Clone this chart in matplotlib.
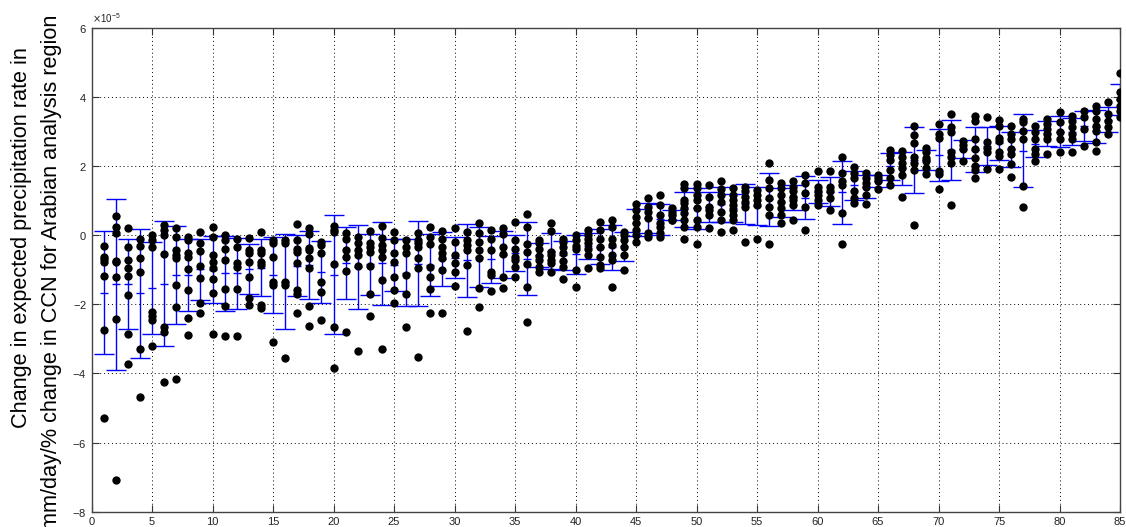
import numpy as np
import matplotlib.pyplot as plt
from matplotlib.ticker import ScalarFormatter, MultipleLocator

plt.rcParams['font.family'] = ['Liberation Sans', 'DejaVu Sans']

# Values per simulation (units of 1e-5 mm/day per % CCN)
runs = list(range(1, 86))
precip_change = [
    [-0.32, -0.63, -0.70, -0.79, -1.17, -2.73, -5.30],
    [0.54, 0.22, 0.07, -0.74, -0.79, -1.21, -2.43, -7.08],
    [0.19, -0.34, -0.72, -0.96, -1.18, -1.72, -2.85, -3.73],
    [-0.11, -0.32, -0.66, -1.07, -3.30, -4.67],
    [0.00, -0.14, -0.34, -2.22, -2.34, -2.46, -3.20],
    [0.29, 0.16, 0.00, -0.54, -2.67, -2.79, -4.26],
    [0.19, -0.05, -0.43, -0.58, -0.67, -1.45, -2.07, -4.16],
    [-0.05, -0.14, -0.53, -0.63, -0.99, -1.59, -2.41, -2.90],
    [0.09, -0.24, -0.46, -0.90, -1.23, -1.96, -2.25],
    [0.22, -0.07, -0.58, -0.77, -0.96, -1.28, -1.67, -2.86],
    [0.00, -0.14, -0.40, -0.72, -1.55, -2.05, -2.91],
    [-0.10, -0.34, -0.82, -0.92, -1.57, -2.91],
    [-0.08, -0.43, -0.53, -0.77, -1.22, -1.81, -2.01],
    [0.09, -0.43, -0.53, -0.77, -0.87, -2.02, -2.12],
    [-0.14, -0.24, -0.62, -1.35, -1.45, -3.10],
    [-0.14, -0.24, -1.35, -1.45, -3.54],
    [0.32, -0.14, -0.39, -0.48, -0.82, -1.59, -1.69, -2.26],
    [0.19, 0.02, -0.36, -0.43, -0.67, -0.96, -2.04, -2.62],
    [-0.19, -0.29, -0.51, -1.35, -1.64, -2.46],
    [0.26, 0.14, 0.08, -0.84, -2.65, -3.85],
    [0.07, -0.10, -0.43, -0.63, -1.04, -2.79],
    [-0.05, -0.24, -0.43, -0.58, -0.89, -3.34],
    [0.13, -0.24, -0.34, -0.48, -0.90, -1.71, -2.34],
    [0.26, -0.08, -0.29, -0.43, -0.63, -1.30, -3.28],
    [0.08, -0.14, -0.51, -0.77, -1.22, -1.59, -1.95],
    [-0.14, -0.34, -0.53, -1.14, -1.71, -2.67],
    [0.05, -0.14, -0.24, -0.34, -0.67, -0.96, -3.52],
    [0.24, -0.05, -0.26, -0.92, -1.20, -1.57, -2.26],
    [0.13, -0.10, -0.34, -0.53, -0.67, -1.01, -2.24],
    [0.19, -0.19, -0.58, -0.82, -1.06, -1.47],
    [0.10, -0.14, -0.29, -0.43, -0.87, -2.77],
    [0.36, 0.05, -0.19, -0.43, -0.67, -1.52, -2.07],
    [0.14, -0.10, -0.43, -1.06, -1.16, -1.62],
    [0.19, 0.02, -0.34, -0.56, -1.20, -1.54],
    [0.39, -0.14, -0.39, -0.63, -0.72, -0.92, -1.20],
    [0.60, 0.22, -0.26, -0.48, -0.84, -1.49, -2.52],
    [-0.14, -0.24, -0.39, -0.61, -0.72, -0.92, -1.06],
    [0.36, 0.12, -0.48, -0.58, -0.72, -0.82, -1.06],
    [-0.10, -0.19, -0.34, -0.53, -0.75, -0.92, -1.27],
    [0.00, -0.14, -0.32, -0.39, -1.01, -1.49],
    [0.14, 0.00, -0.10, -0.24, -0.39, -0.58, -0.96],
    [0.39, 0.14, -0.10, -0.34, -0.63, -0.87, -0.96],
    [0.45, 0.22, -0.10, -0.29, -0.58, -0.72, -1.49],
    [0.10, 0.00, -0.14, -0.34, -0.58, -1.01],
    [0.90, 0.72, 0.53, 0.34, 0.16, 0.00, -0.19],
    [1.06, 0.82, 0.67, 0.48, 0.05, -0.05],
    [1.16, 0.87, 0.58, 0.34, 0.22, 0.07, -0.07],
    [0.77, 0.67, 0.58, 0.43, 0.43],
    [1.47, 1.35, 1.01, 0.92, 0.77, 0.63, 0.43, 0.22, -0.10],
    [1.49, 1.35, 1.16, 1.01, 0.77, 0.43, 0.24, -0.26],
    [1.45, 1.11, 0.82, 0.72, 0.58, 0.19],
    [1.55, 1.32, 1.16, 0.97, 0.68, 0.43, 0.10],
    [1.35, 1.16, 1.01, 0.87, 0.72, 0.58, 0.45, 0.14],
    [1.40, 1.26, 1.11, 0.97, 0.82, -0.19],
    [1.30, 1.16, 1.01, 0.87, -0.10],
    [2.08, 1.59, 1.35, 1.06, 0.82, 0.58, -0.26],
    [1.50, 1.35, 1.16, 0.97, 0.77, 0.58, 0.34],
    [1.55, 1.40, 1.26, 1.11, 1.01, 0.87, 0.43],
    [1.74, 1.50, 1.21, 0.82, 0.16],
    [1.84, 1.40, 1.26, 1.16, 1.01, 0.87],
    [1.84, 1.40, 1.26, 1.06, 0.72],
    [2.25, 1.79, 1.55, 1.45, 0.63, -0.26],
    [1.96, 1.79, 1.64, 1.26, 1.06, 0.94],
    [1.79, 1.64, 1.50, 1.40, 1.16, 0.89],
    [1.74, 1.64, 1.55, 1.32],
    [2.46, 2.32, 2.17, 1.88, 1.64, 1.45],
    [2.42, 2.27, 2.08, 1.93, 1.74, 1.11],
    [3.14, 2.90, 2.66, 2.27, 2.08, 1.88, 0.29],
    [2.53, 2.39, 2.24, 2.14, 1.95, 1.76],
    [3.21, 2.92, 2.82, 1.86, 1.76, 1.32],
    [3.50, 3.11, 2.97, 2.39, 2.27, 2.08, 0.86],
    [2.72, 2.60, 2.48, 2.14],
    [3.43, 3.30, 2.79, 2.48, 2.24, 2.00, 1.88, 1.64],
    [3.40, 2.68, 2.53, 2.39, 1.90],
    [3.32, 3.16, 2.82, 2.72, 2.39, 2.29, 1.90],
    [3.14, 2.92, 2.77, 2.48, 2.34, 2.05, 1.68],
    [3.35, 3.26, 3.01, 2.77, 1.42, 0.81],
    [3.14, 2.97, 2.77, 2.48, 2.34, 2.14],
    [3.35, 3.21, 3.06, 2.92, 2.77, 2.34],
    [3.55, 3.26, 2.97, 2.77, 2.39],
    [3.45, 3.30, 3.11, 2.92, 2.77, 2.41],
    [3.59, 3.40, 3.06, 2.58],
    [3.74, 3.59, 3.35, 3.16, 3.01, 2.68, 2.43],
    [3.84, 3.50, 3.30, 3.11, 2.92],
    [4.68, 4.15, 3.93, 3.74, 3.59, 3.40],
]

scale = 1e-5
means = np.array([np.mean(v) for v in precip_change]) * scale
stds = np.array([np.std(v, ddof=1) for v in precip_change]) * scale

fig = plt.figure(figsize=(11.26, 5.27), dpi=100)
ax = fig.add_axes([0.0813, 0.0288, 0.9134, 0.919])

# mean +/- std per run
ax.errorbar(runs, means, yerr=stds, fmt='_', color='b', ecolor='b',
            elinewidth=1.0, capsize=7.5, capthick=1.0, markersize=6, mew=1.0, zorder=2)

# individual members
for r, v in zip(runs, precip_change):
    ax.plot([r] * len(v), np.array(v) * scale, 'o', color='k', markersize=6,
            markeredgewidth=0, zorder=3)

ax.set_xlim(0, 85)
ax.set_ylim(-8e-5, 6e-5)
ax.xaxis.set_major_locator(MultipleLocator(5))
ax.yaxis.set_major_locator(MultipleLocator(2e-5))
fmt = ScalarFormatter(useMathText=True)
fmt.set_powerlimits((0, 0))
ax.yaxis.set_major_formatter(fmt)
ax.yaxis.get_offset_text().set_fontsize(7)

ax.grid(True, linestyle=(0, (1, 3)), color='k', linewidth=0.7)
ax.tick_params(direction='in', length=5, labelsize=8, top=True, right=True,
               colors='#333333', labelcolor='#222222')
for s in ax.spines.values():
    s.set_color('#444444')
    s.set_linewidth(1.0)

fig.text(22 / 1126, 1 - 238 / 527, 'Change in expected precipitation rate in',
         rotation=90, ha='center', va='center', fontsize=15.6)
fig.text(52 / 1126, 1 - 272 / 527, 'mm/day/% change in CCN for Arabian analysis region',
         rotation=90, ha='center', va='center', fontsize=15.6)

fig.savefig('out.png', dpi=100)
